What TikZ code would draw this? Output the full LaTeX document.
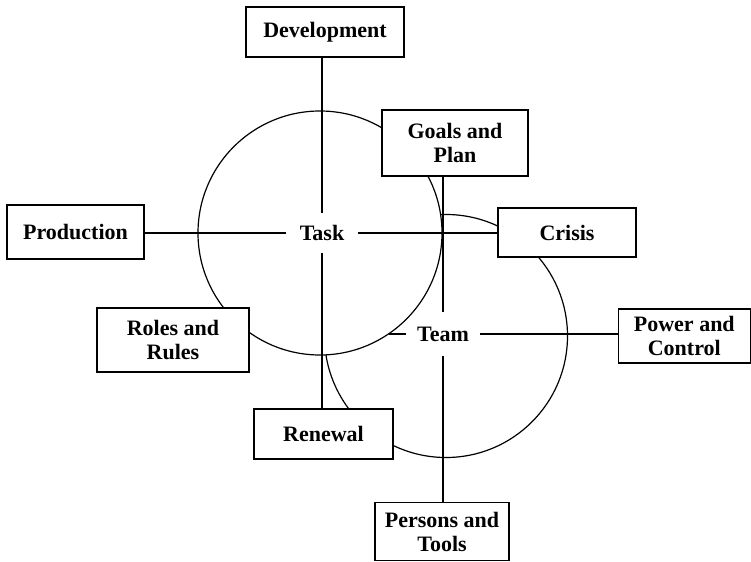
\documentclass[tikz,border=0pt]{standalone}
\usepackage{fontspec}
\setmainfont{Liberation Serif}
\usepackage{tikz}
\usetikzlibrary{calc}

\tikzset{
    box/.style={draw, fill=white, align=center, font=\fontsize{11}{12}\selectfont\bfseries, inner sep=0pt},
    hub/.style={font=\fontsize{11}{12}\selectfont\bfseries, inner sep=0pt}
}

\begin{document}
\begin{tikzpicture}[x=0.5pt, y=-0.5pt, line width=0.6pt]
    \useasboundingbox (0, 0) rectangle (751, 562);

    % team circle lies behind the task circle
    \draw (446, 336) circle (121.5);
    \draw[fill=white] (320, 233) circle (122);

    \node[hub, minimum width=35pt, minimum height=19pt] (task) at (322, 233) {Task};
    \node[hub, minimum width=36pt, minimum height=21pt] (team) at (443, 334) {Team};

    \node[box, minimum width=79pt, minimum height=25pt] (dev) at (325, 32) {Development};
    \node[box, minimum width=73pt, minimum height=33pt] (goals) at (455, 143) {Goals and\\Plan};
    \node[box, minimum width=68.5pt, minimum height=27pt] (prod) at (75.5, 232) {Production};
    \node[box, minimum width=69pt, minimum height=24.5pt] (crisis) at (567, 232.5) {Crisis};
    \node[box, minimum width=76pt, minimum height=32pt] (roles) at (173, 340) {Roles and\\Rules};
    \node[box, minimum width=66pt, minimum height=27pt] (power) at (684.3, 336) {Power and\\Control};
    \node[box, minimum width=69.5pt, minimum height=25pt] (renewal) at (323.5, 434) {Renewal};
    \node[box, minimum width=67pt, minimum height=29pt] (persons) at (442, 531.5) {Persons and\\Tools};

    \coordinate (edge) at (389, 334);

    \draw (dev.south -| task) -- (task.north);
    \draw (task.south) -- (renewal.north -| task);
    \draw (prod.east |- task) -- (task.west);
    \draw (task.east) -- (crisis.west |- task);
    \draw (goals.south -| team) -- (team.north);
    \draw (team.south) -- (persons.north -| team);
    \draw (edge) -- (team.west);
    \draw (team.east) -- (power.west |- team);
\end{tikzpicture}
\end{document}
